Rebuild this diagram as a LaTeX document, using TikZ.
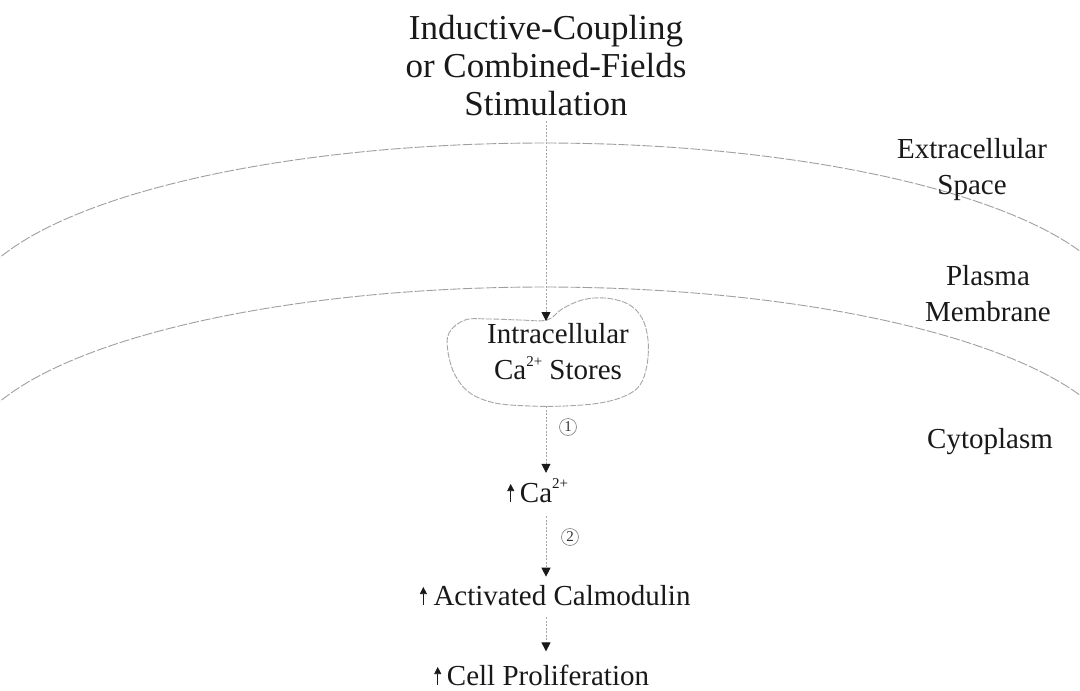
\documentclass[tikz,border=0pt]{standalone}
\usepackage{fontspec}
\setmainfont{Liberation Serif}
\usetikzlibrary{arrows.meta}
\newcommand{\supsm}[1]{\raisebox{0.45em}{\fontsize{15}{15}\selectfont #1}}
\begin{document}
\begin{tikzpicture}[x=1pt,y=-1pt,
  lbl/.style={inner sep=0pt, align=center, text=black!90, font=\fontsize{29}{36}\selectfont},
  ttl/.style={inner sep=0pt, align=center, text=black!90, font=\fontsize{35}{38}\selectfont},
  flow/.style={draw=gray!70, line width=0.8pt, dash pattern=on 2pt off 1.5pt, -{Triangle[length=9pt,width=9pt,color=black!90]}},
  membrane/.style={draw=gray!75, line width=0.9pt, dash pattern=on 10pt off 2pt},
  blobline/.style={draw=gray!70, line width=0.9pt, dash pattern=on 6pt off 1.5pt},
  num/.style={circle, draw=gray!90, line width=0.7pt, inner sep=1.5pt, minimum size=17pt, text=black!80, font=\fontsize{15}{15}\selectfont},
  upar/.style={draw=black!90, line width=0.7pt, -{Triangle[length=7pt,width=7pt]}},
]
\useasboundingbox (0,0) rectangle (1080,691);
\fill[white] (0,0) rectangle (1080,691);

% membrane arcs
\begin{scope}
\clip (0,0) rectangle (1080,691);
\draw[membrane] plot[domain=0:180,samples=120] ({544+580*cos(\x)},{318-175*sin(\x)});
\draw[membrane] plot[domain=0:180,samples=120] ({544+580*cos(\x)},{462-175*sin(\x)});
\end{scope}

% texts
\node[ttl, anchor=north] (title) at (546,15) {Inductive-Coupling\\or Combined-Fields\\Stimulation};
\node[lbl, anchor=north] (ext) at (972,138) {Extracellular\\Space};
\node[lbl, anchor=north] (pm) at (988,265) {Plasma\\Membrane};
\node[lbl, anchor=base] (cyto) at (990,448) {Cytoplasm};

% calcium stores blob
\draw[blobline] plot[smooth cycle, tension=0.6] coordinates {
  (449,333) (448,352) (455,375) (470,393) (495,403) (530,406) (565,406)
  (600,403) (625,396) (640,385) (647,365) (648,340) (642,318) (628,304)
  (605,298) (582,300) (562,309) (547,320) (520,320) (490,319) (465,320)};
\coordinate (blobtop) at (546,321);
\coordinate (blobbot) at (546,406);
\node[lbl, anchor=north] (stores) at (558,323) {Intracellular\\Ca\supsm{2+} Stores};

\node[lbl, anchor=base] (ca) at (544,502) {Ca\supsm{2+}};
\node[lbl, anchor=base] (cam) at (562,605) {Activated Calmodulin};
\node[lbl, anchor=base] (cell) at (548,685) {Cell Proliferation};

\draw[upar] ([xshift=-9pt]ca.base west) -- ++(0,-18);
\draw[upar] ([xshift=-10pt]cam.base west) -- ++(0,-18);
\draw[upar] ([xshift=-9pt]cell.base west) -- ++(0,-18);

% connectors
\draw[flow, shorten <=5pt] (title.south -| blobtop) -- (blobtop);
\draw[flow, shorten >=6pt] (blobbot) -- (blobbot |- ca.north);
\draw[flow, shorten <=14pt, shorten >=8pt] (ca.south -| blobbot) -- (cam.north -| blobbot);
\draw[flow, shorten <=12pt, shorten >=13pt] (cam.south -| blobbot) -- (cell.north -| blobbot);

\node[num] (n1) at (568,427) {1};
\node[num] (n2) at (570,537) {2};
\end{tikzpicture}
\end{document}
